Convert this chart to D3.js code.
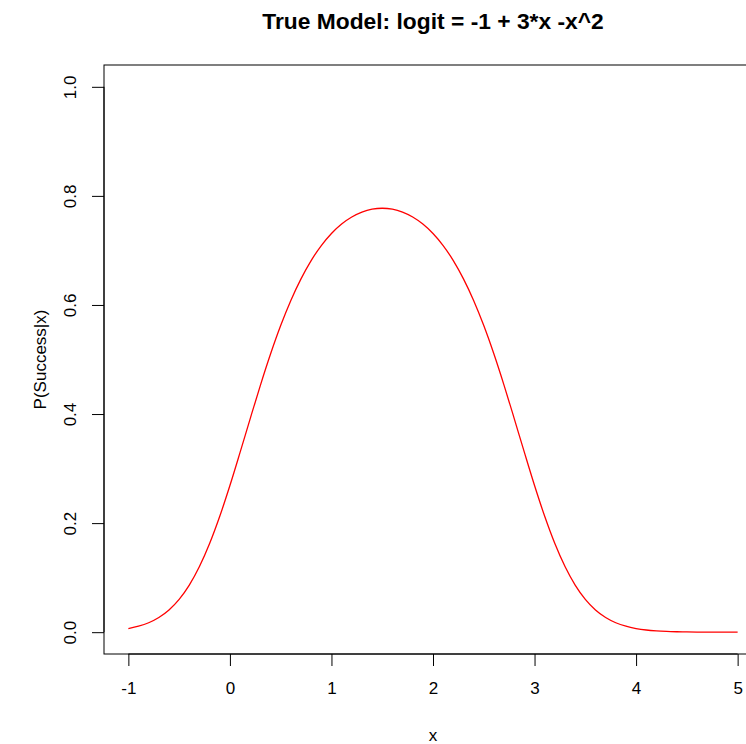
<!DOCTYPE html>
<html>
<head>
<meta charset="utf-8">
<script src="https://cdn.jsdelivr.net/npm/d3@7"></script>
<style>
  body { margin: 0; background: #fff; }
  svg { display: block; font-family: "Liberation Sans", Arial, sans-serif; }
</style>
</head>
<body>
<svg id="chart"></svg>
<script>
// curve values
const xValues = [-1.0, -0.9, -0.8, -0.7, -0.6, -0.5, -0.4, -0.3, -0.2, -0.1,
  0.0, 0.1, 0.2, 0.3, 0.4, 0.5, 0.6, 0.7, 0.8, 0.9,
  1.0, 1.1, 1.2, 1.3, 1.4, 1.5, 1.6, 1.7, 1.8, 1.9,
  2.0, 2.1, 2.2, 2.3, 2.4, 2.5, 2.6, 2.7, 2.8, 2.9,
  3.0, 3.1, 3.2, 3.3, 3.4, 3.5, 3.6, 3.7, 3.8, 3.9,
  4.0, 4.1, 4.2, 4.3, 4.4, 4.5, 4.6, 4.7, 4.8, 4.9, 5.0];
const pValues = [0.0067, 0.0109, 0.0173, 0.0269, 0.0407, 0.0601, 0.0863, 0.1203, 0.1625, 0.2125,
  0.2689, 0.3296, 0.3917, 0.4526, 0.5100, 0.5622, 0.6083, 0.6479, 0.6814, 0.7089,
  0.7311, 0.7484, 0.7613, 0.7703, 0.7756, 0.7773, 0.7756, 0.7703, 0.7613, 0.7484,
  0.7311, 0.7089, 0.6814, 0.6479, 0.6083, 0.5622, 0.5100, 0.4526, 0.3917, 0.3296,
  0.2689, 0.2125, 0.1625, 0.1203, 0.0863, 0.0601, 0.0407, 0.0269, 0.0173, 0.0109,
  0.0067, 0.0040, 0.0024, 0.0014, 0.0008, 0.0004, 0.0002, 0.0001, 0.0001, 0.0000, 0.0000];
const xTicks = [-1, 0, 1, 2, 3, 4, 5];
const yTicks = [0.0, 0.2, 0.4, 0.6, 0.8, 1.0];

const W = 746, H = 744;
const margin = {top: 65, right: -16, bottom: 90, left: 104};
const innerW = W - margin.left - margin.right,
      innerH = H - margin.top - margin.bottom;

const svg = d3.select("#chart").attr("width", W).attr("height", H);
const g = svg.append("g").attr("transform", `translate(${margin.left},${margin.top})`);

// R style 4% padding around the data range
const x = d3.scaleLinear().domain([-1.24, 5.24]).range([0, innerW]);
const y = d3.scaleLinear().domain([-0.04, 1.04]).range([innerH, 0]);

// plot box
g.append("rect")
  .attr("x", 0).attr("y", 0)
  .attr("width", innerW).attr("height", innerH)
  .attr("fill", "none").attr("stroke", "#000").attr("stroke-width", 1);

// x axis (plain hyphen for negatives, like R)
const xAxis = g.append("g")
  .attr("transform", `translate(0,${innerH})`)
  .call(d3.axisBottom(x).tickValues(xTicks).tickSize(12).tickPadding(16).tickFormat(d => String(d)));
xAxis.select(".domain").attr("d", `M${x(-1)},0H${x(5)}`);
xAxis.selectAll("text").style("font-size", "17px").attr("fill", "#000");

// y axis
const yAxis = g.append("g")
  .call(d3.axisLeft(y).tickValues(yTicks).tickSize(12).tickFormat(d3.format(".1f")));
yAxis.select(".domain").attr("d", `M0,${y(0)}V${y(1)}`);
yAxis.selectAll("text")
  .style("font-size", "17px").attr("fill", "#000")
  .attr("x", null).attr("dy", null)
  .attr("text-anchor", "middle")
  .attr("transform", "translate(-28,0) rotate(-90)");

// curve
const line = d3.line()
  .x((d, i) => x(xValues[i]))
  .y(d => y(d))
  .curve(d3.curveMonotoneX);
g.append("path")
  .datum(pValues)
  .attr("d", line)
  .attr("fill", "none")
  .attr("stroke", "#ff0000")
  .attr("stroke-width", 1.3);

// title and labels
svg.append("text")
  .attr("x", margin.left + innerW / 2).attr("y", 29)
  .attr("text-anchor", "middle")
  .style("font-size", "22.8px").style("font-weight", "bold")
  .text("True Model: logit = -1 + 3*x -x^2");

svg.append("text")
  .attr("x", margin.left + innerW / 2).attr("y", 741)
  .attr("text-anchor", "middle")
  .style("font-size", "17px")
  .text("x");

svg.append("text")
  .attr("transform", `translate(46,${margin.top + innerH / 2}) rotate(-90)`)
  .attr("text-anchor", "middle")
  .style("font-size", "17px")
  .text("P(Success|x)");
</script>
</body>
</html>
